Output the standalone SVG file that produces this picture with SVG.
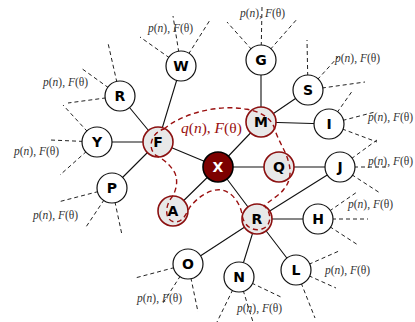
<svg xmlns="http://www.w3.org/2000/svg" width="415" height="322" viewBox="0 0 415 322">
<style>
.e{stroke:#111;stroke-width:1.1;fill:none}
.d{stroke:#222;stroke-width:1;stroke-dasharray:4,3;fill:none}
.n{fill:#fff;stroke:#111;stroke-width:1.2}
.h{fill:#e8e8e8;stroke:#8b1010;stroke-width:1.6}
.x{fill:#7d0000;stroke:#000;stroke-width:1.6}
.t{font-family:"DejaVu Sans",sans-serif;font-weight:bold;font-size:14px;text-anchor:middle;fill:#000}
.p{font-family:"Liberation Serif",serif;font-size:11.5px;fill:#333}
.q{font-family:"Liberation Serif",serif;font-size:15.5px;fill:#9a1010}
.i{font-style:italic}
.loop{stroke:#9a1010;stroke-width:1.4;stroke-dasharray:5,3.5;fill:none}
</style>
<g id="connectors">
<g id="dashed">
<path class="d" d="M181,66L140,37M181,66L173,16M181,66L210,20"/>
<path class="d" d="M120,96L108,43M120,96L81,68M120,96L68,103"/>
<path class="d" d="M97,142L63,105M97,142L50,140M97,142L60,175"/>
<path class="d" d="M112,188L58,202M112,188L86,227M112,188L122,235"/>
<path class="d" d="M188,264L135,278M188,264L163,303M188,264L198,312"/>
<path class="d" d="M239,277L217,322M239,277L253,322M239,277L283,298"/>
<path class="d" d="M296,270L339,251M296,270L336,288M296,270L315,318"/>
<path class="d" d="M318,219L357,192M318,219L368,219M318,219L358,245"/>
<path class="d" d="M340,167L377,140M340,167L388,167M340,167L380,193"/>
<path class="d" d="M329,124L353,90M329,124L375,112M329,124L377,142"/>
<path class="d" d="M308,90L307,40M308,90L338,57M308,90L365,82"/>
<path class="d" d="M261,60L227,22M261,60L262,7M261,60L298,18"/>
</g>
<g id="solid">
<path class="e" d="M158,142L181,66M158,142L120,96M158,142L97,142M158,142L112,188M158,142L218,167"/>
<path class="e" d="M218,167L261,122M218,167L279,167M218,167L173,211M218,167L257,219"/>
<path class="e" d="M261,122L261,60M261,122L308,90M261,122L329,124M279,167L340,167"/>
<path class="e" d="M257,219L340,167M257,219L318,219M257,219L188,264M257,219L239,277M257,219L296,270"/>
</g>
</g>
<g id="labels-p">
<text class="p" x="148" y="32"><tspan class="i">p</tspan>(<tspan class="i">n</tspan>), <tspan class="i">F</tspan>(θ)</text>
<text class="p" x="43" y="86"><tspan class="i">p</tspan>(<tspan class="i">n</tspan>), <tspan class="i">F</tspan>(θ)</text>
<text class="p" x="14" y="155"><tspan class="i">p</tspan>(<tspan class="i">n</tspan>), <tspan class="i">F</tspan>(θ)</text>
<text class="p" x="33" y="219"><tspan class="i">p</tspan>(<tspan class="i">n</tspan>), <tspan class="i">F</tspan>(θ)</text>
<text class="p" x="137" y="302"><tspan class="i">p</tspan>(<tspan class="i">n</tspan>), <tspan class="i">F</tspan>(θ)</text>
<text class="p" x="237" y="312"><tspan class="i">p</tspan>(<tspan class="i">n</tspan>), <tspan class="i">F</tspan>(θ)</text>
<text class="p" x="325" y="274"><tspan class="i">p</tspan>(<tspan class="i">n</tspan>), <tspan class="i">F</tspan>(θ)</text>
<text class="p" x="348" y="208"><tspan class="i">p</tspan>(<tspan class="i">n</tspan>), <tspan class="i">F</tspan>(θ)</text>
<text class="p" x="368" y="165"><tspan class="i">p</tspan>(<tspan class="i">n</tspan>), <tspan class="i">F</tspan>(θ)</text>
<text class="p" x="368" y="121"><tspan class="i">p</tspan>(<tspan class="i">n</tspan>), <tspan class="i">F</tspan>(θ)</text>
<text class="p" x="335" y="62"><tspan class="i">p</tspan>(<tspan class="i">n</tspan>), <tspan class="i">F</tspan>(θ)</text>
<text class="p" x="240" y="17"><tspan class="i">p</tspan>(<tspan class="i">n</tspan>), <tspan class="i">F</tspan>(θ)</text>
</g>
<g id="node-W"><circle class="n" cx="181" cy="66" r="15"/><text class="t" x="181" y="71">W</text></g>
<g id="node-R1"><circle class="n" cx="120" cy="96" r="15"/><text class="t" x="120" y="101">R</text></g>
<g id="node-Y"><circle class="n" cx="97" cy="142" r="15"/><text class="t" x="97" y="147">Y</text></g>
<g id="node-P"><circle class="n" cx="112" cy="188" r="15"/><text class="t" x="112" y="193">P</text></g>
<g id="node-O"><circle class="n" cx="188" cy="264" r="15"/><text class="t" x="188" y="269">O</text></g>
<g id="node-N"><circle class="n" cx="239" cy="277" r="15"/><text class="t" x="239" y="282">N</text></g>
<g id="node-L"><circle class="n" cx="296" cy="270" r="15"/><text class="t" x="296" y="275">L</text></g>
<g id="node-H"><circle class="n" cx="318" cy="219" r="15"/><text class="t" x="318" y="224">H</text></g>
<g id="node-J"><circle class="n" cx="340" cy="167" r="15"/><text class="t" x="340" y="172">J</text></g>
<g id="node-I"><circle class="n" cx="329" cy="124" r="15"/><text class="t" x="329" y="129">I</text></g>
<g id="node-S"><circle class="n" cx="308" cy="90" r="15"/><text class="t" x="308" y="95">S</text></g>
<g id="node-G"><circle class="n" cx="261" cy="60" r="15"/><text class="t" x="261" y="65">G</text></g>
<g id="node-F"><circle class="h" cx="158" cy="142" r="15"/><text class="t" x="158" y="147">F</text></g>
<g id="node-M"><circle class="h" cx="261" cy="122" r="15"/><text class="t" x="261" y="127">M</text></g>
<g id="node-Q"><circle class="h" cx="279" cy="167" r="15"/><text class="t" x="279" y="172">Q</text></g>
<g id="node-R"><circle class="h" cx="257" cy="219" r="15"/><text class="t" x="257" y="224">R</text></g>
<g id="node-A"><circle class="h" cx="173" cy="211" r="15"/><text class="t" x="173" y="216">A</text></g>
<g id="node-X"><circle class="x" cx="218" cy="167" r="15"/><text class="t" x="218" y="172" fill="#fff" style="fill:#fff">X</text></g>
<g id="loop">
<path class="loop" d="M164,129 C180,115 215,104 245,109 C260,111 272,118 275,130 C278,140 285,150 288,160 C292,172 290,182 284,189 C279,196 270,200 264,206 C272,212 272,226 262,229 C252,232 243,225 242,214 C240,203 232,192 222,190 C210,188 197,198 190,207 C186,214 183,222 175,222 C165,221 164,207 172,197 C178,188 178,176 173,170 C169,164 163,159 157,156 C147,150 150,133 164,129 Z"/>
<text class="q" x="181" y="133"><tspan class="i">q</tspan>(<tspan class="i">n</tspan>), <tspan class="i">F</tspan>(θ)</text>
</g>
</svg>
